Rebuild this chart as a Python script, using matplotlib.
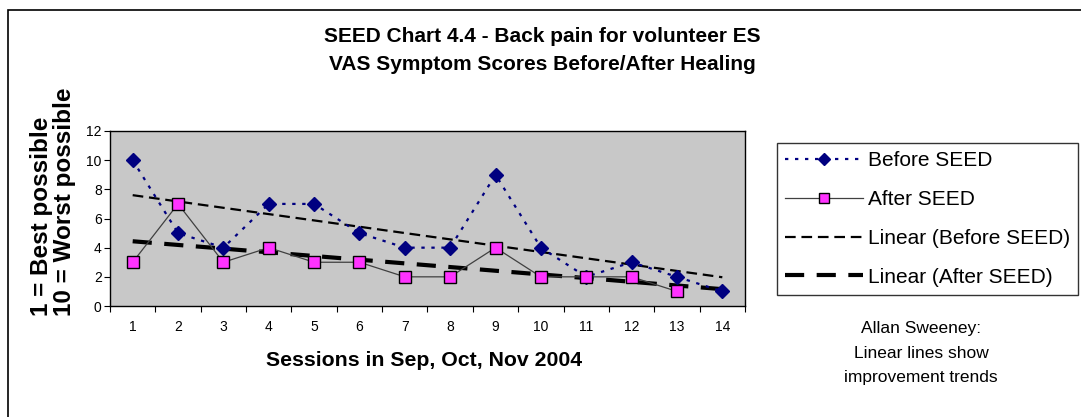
import numpy as np
import matplotlib
matplotlib.use('Agg')
from matplotlib import pyplot as plt
from matplotlib.patches import Rectangle

plt.rcParams['font.family'] = ['Liberation Sans', 'DejaVu Sans']

# data
sessions = [1, 2, 3, 4, 5, 6, 7, 8, 9, 10, 11, 12, 13, 14]
before = [10, 5, 4, 7, 7, 5, 4, 4, 9, 4, 2, 3, 2, 1]
after_sessions = [1, 2, 3, 4, 5, 6, 7, 8, 9, 10, 11, 12, 13]
after = [3, 7, 3, 4, 3, 3, 2, 2, 4, 2, 2, 2, 1]
y_ticks = [0, 2, 4, 6, 8, 10, 12]

# linear trend lines (Excel style), drawn over the full category range
x_all = np.array(sessions)
fit_b = np.polyfit(sessions, before, 1)
fit_a = np.polyfit(after_sessions, after, 1)

fig = plt.figure(figsize=(10.81, 4.17), dpi=100)
fig.patches.append(Rectangle((8 / 1081, -0.01), 1.1, (417 - 10) / 417 + 0.01,
                             transform=fig.transFigure, fill=False,
                             edgecolor='black', linewidth=1.2, zorder=0))

ax = fig.add_axes([110 / 1081, (417 - 306) / 417, 635 / 1081, 175 / 417])
ax.set_facecolor('#C8C8C8')

l1, = ax.plot(sessions, before, color='#000080', linestyle=(0, (1.5, 3)),
              linewidth=1.6, marker='D', markersize=7,
              markerfacecolor='#000080', markeredgecolor='#000080',
              label='Before SEED', zorder=4)
l2, = ax.plot(after_sessions, after, color='#404040', linewidth=0.9,
              marker='s', markersize=8, markerfacecolor='#FF33FF',
              markeredgecolor='black', markeredgewidth=1.0,
              label='After SEED', zorder=5)
l3, = ax.plot(x_all, np.polyval(fit_b, x_all), color='black', linewidth=1.6,
              dashes=(4.8, 2.6), label='Linear (Before SEED)', zorder=3)
l4, = ax.plot(x_all, np.polyval(fit_a, x_all), color='black', linewidth=3.0,
              dashes=(4.6, 3.0), label='Linear (After SEED)', zorder=3)

ax.set_xlim(0.5, 14.5)
ax.set_ylim(0, 12)
ax.set_yticks(y_ticks)
ax.set_xticks(np.arange(0.5, 15.0, 1.0))
ax.set_xticklabels([])
ax.set_xticks(sessions, minor=True)
ax.set_xticklabels([str(s) for s in sessions], minor=True)
ax.tick_params(axis='x', which='major', direction='out', length=4, width=0.8)
ax.tick_params(axis='x', which='minor', length=0, pad=10, labelsize=10)
ax.tick_params(axis='y', direction='out', length=4, width=0.8, labelsize=10, pad=2)
for s in ax.spines.values():
    s.set_linewidth(1.0)
    s.set_color('black')

fig.text(542 / 1081, 1 - 36 / 417, 'SEED Chart 4.4 - Back pain for volunteer ES',
         ha='center', va='center', fontsize=15, fontweight='bold')
fig.text(542 / 1081, 1 - 64 / 417, 'VAS Symptom Scores Before/After Healing',
         ha='center', va='center', fontsize=15, fontweight='bold')
fig.text(424 / 1081, 1 - 360 / 417, 'Sessions in Sep, Oct, Nov 2004',
         ha='center', va='center', fontsize=15.3, fontweight='bold')
fig.text(53 / 1081, 1 - 316 / 417, '1 = Best possible\n10 = Worst possible',
         rotation=90, ha='center', va='bottom', multialignment='left',
         fontsize=17.5, fontweight='bold', linespacing=1.0)

fig.text(921 / 1081, 1 - 353 / 417,
         'Allan Sweeney:\nLinear lines show\nimprovement trends',
         ha='center', va='center', fontsize=12.5, linespacing=1.8)

leg = fig.legend(handles=[l1, l2, l3, l4], loc='upper left',
                 bbox_to_anchor=(777 / 1081, 1 - 143 / 417),
                 fontsize=15, handlelength=3.75, handletextpad=0.2,
                 labelspacing=0.95, borderpad=0.4, borderaxespad=0.0,
                 frameon=True, fancybox=False, markerscale=0.85)
leg.get_frame().set_edgecolor('black')
leg.get_frame().set_linewidth(1.0)

fig.savefig('out.png', dpi=100)
